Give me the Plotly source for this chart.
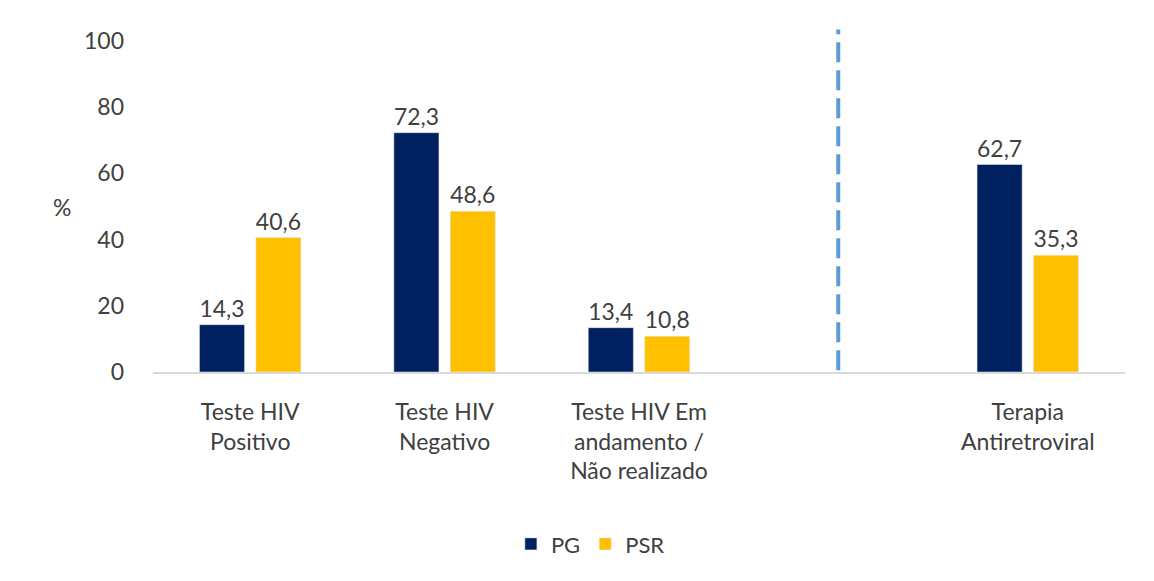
import plotly.graph_objects as go

# Data
categories = ["Teste HIV<br>Positivo", "Teste HIV<br>Negativo",
              "Teste HIV Em<br>andamento /<br>Não realizado", "",
              "Terapia<br>Antiretroviral"]
x_pos = [0, 1, 2, 3, 4]
pg = [14.3, 72.3, 13.4, None, 62.7]
psr = [40.6, 48.6, 10.8, None, 35.3]

font_family = "Lato, Open Sans, sans-serif"
text_color = "#404040"


def fmt(v):
    return "" if v is None else f"{v:.1f}".replace(".", ",")


fig = go.Figure()
fig.add_trace(go.Bar(
    name="PG", x=x_pos, y=pg, marker_color="#002060",
    text=[fmt(v) for v in pg], textposition="outside", cliponaxis=False,
    textfont=dict(size=24, color=text_color, family=font_family),
))
fig.add_trace(go.Bar(
    name="PSR", x=x_pos, y=psr, marker_color="#FFC000",
    text=[fmt(v) for v in psr], textposition="outside", cliponaxis=False,
    textfont=dict(size=24, color=text_color, family=font_family),
))

# dashed separator between the HIV tests and the therapy group
fig.add_shape(type="line", x0=0.705, x1=0.705, y0=0.005, y1=1.035,
              xref="x domain", yref="y domain",
              line=dict(color="#5B9BD5", width=4, dash="20px,8px"))

fig.add_annotation(text="%", xref="x domain", yref="y domain",
                   x=-0.105, y=0.5, showarrow=False,
                   font=dict(size=23, color=text_color, family=font_family))

# page body adds an 8px offset, so margins are shifted accordingly
fig.update_layout(
    width=1154, height=581,
    margin=dict(l=145, r=37, t=33, b=217),
    plot_bgcolor="white", paper_bgcolor="white",
    barmode="group", bargap=0.42, bargroupgap=0.2,
    font=dict(family=font_family, size=22, color=text_color),
    showlegend=True,
    legend=dict(orientation="h", x=0.45, xanchor="center", y=-0.52,
                yanchor="middle", font=dict(size=22, color=text_color),
                itemwidth=30, traceorder="normal"),
    xaxis=dict(
        tickmode="array", tickvals=x_pos, ticktext=categories,
        range=[-0.5, 4.5], showline=True, linecolor="#D9D9D9", linewidth=2,
        showgrid=False, ticks="", ticklabelstandoff=18, automargin=False,
        tickfont=dict(size=23, color=text_color),
    ),
    yaxis=dict(
        range=[0, 100], tickvals=[0, 20, 40, 60, 80, 100],
        showgrid=False, zeroline=False, showline=False, ticks="",
        ticklabelstandoff=28, automargin=False,
        tickfont=dict(size=23, color=text_color),
    ),
)

fig.write_html("out.html")
